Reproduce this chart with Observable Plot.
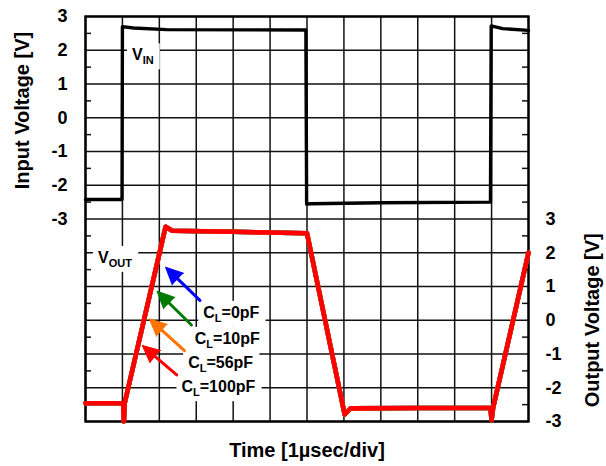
<!DOCTYPE html>
<html><head><meta charset="utf-8">
<script src="https://cdn.jsdelivr.net/npm/d3@7"></script>
<script src="https://cdn.jsdelivr.net/npm/@observablehq/plot@0.6"></script>
<style>
body{margin:0;background:#fff;}
svg{display:block;}
</style>
</head><body><div id="chart"></div>
<script>
// ---- data (time in µs = divisions, voltages in V) ----
const vinTime  = [0, 0.99, 1.0, 1.3, 2.2, 5.97, 5.99, 6.1, 8.0, 10.97, 10.99, 11.3, 12];
const vinVolt  = [-2.42, -2.42, 2.70, 2.66, 2.61, 2.60, -2.56, -2.55, -2.52, -2.50, 2.72, 2.64, 2.59];

const voutTime = [0, 1.02, 1.04, 1.06, 2.17, 2.35, 4.0, 6.0, 7.02, 7.18, 9.0, 10.97, 11.0, 11.04, 12];
const voutVolt = [-2.46, -2.46, -3.0, -2.46, 2.77, 2.65, 2.62, 2.58, -2.79, -2.61, -2.60, -2.60, -2.96, -2.60, 2.0];

const loadNames  = ["CL=0pF", "CL=10pF", "CL=56pF", "CL=100pF"];
const loadColors = ["#0000ff", "#007a00", "#ff7300", "#ff0000"];

// arrows (head / tail) in output-voltage units
const arrowHeadT = [2.17, 1.94, 1.73, 1.54];
const arrowHeadV = [1.57, 0.86, 0.04, -0.75];
const arrowTailT = [3.10, 2.87, 2.68, 2.47];
const arrowTailV = [0.59, -0.14, -0.90, -1.62];

// annotation labels
const labelMain  = ["V", "V", "C", "C", "C", "C"];
const labelSub   = ["IN", "OUT", "L", "L", "L", "L"];
const labelRest  = ["", "", "=0pF", "=10pF", "=56pF", "=100pF"];
const labelT     = [1.26, 0.34, 3.19, 2.96, 2.78, 2.60];
const labelV     = [1.70, 1.70, 0.07, -0.70, -1.42, -2.13];
const labelPanel = ["in", "out", "out", "out", "out", "out"];

const inTicks  = [-3, -2, -1, 0, 1, 2, 3];
const outTicks = [-3, -2, -1, 0, 1, 2, 3];
const timeDivs = d3.range(0, 13);

// ---- layout ----
const W = 606, H = 466, ML = 85, MR = 78, MT = 16, MB = 45;
const OUT_SHIFT = -6;                 // output panel sits 6 divisions below input panel
const pxPerT = (W - ML - MR) / 12;
const pxPerV = (H - MT - MB) / 12;
const FONT = "'Liberation Sans', Arial, Helvetica, sans-serif";

const vin = vinTime.map((t, i) => ({t, y: vinVolt[i]}));
const vout = loadNames.flatMap((name, k) => voutTime.map((t, i) => ({name, color: loadColors[k], t, y: voutVolt[i] + OUT_SHIFT})));
const arrows = loadNames.map((name, i) => {
  const dx = (arrowHeadT[i] - arrowTailT[i]) * pxPerT;
  const dv = (arrowHeadV[i] - arrowTailV[i]) * pxPerV;
  return {
    color: loadColors[i],
    hx: arrowHeadT[i], hy: arrowHeadV[i] + OUT_SHIFT,
    tx: arrowTailT[i], ty: arrowTailV[i] + OUT_SHIFT,
    rot: Math.atan2(dx, dv) * 180 / Math.PI
  };
});
const labels = labelMain.map((m, i) => ({
  main: m, sub: labelSub[i], rest: labelRest[i], full: m + labelSub[i] + labelRest[i],
  t: labelT[i], y: labelV[i] + (labelPanel[i] === "out" ? OUT_SHIFT : 0)
}));
const hGrid = d3.range(-9, 4);
const minor = d3.range(-8.5, 3, 1);

const chart = Plot.plot({
  width: W, height: H,
  marginLeft: ML, marginRight: MR, marginTop: MT, marginBottom: MB,
  x: {domain: [0, 12], axis: null},
  y: {domain: [-9, 3]},
  color: {type: "identity"},
  style: {fontFamily: FONT, fontWeight: "bold", background: "white", color: "black"},
  marks: [
    Plot.ruleX(timeDivs, {stroke: "#111", strokeWidth: 1.5}),
    Plot.ruleY(hGrid, {stroke: "#111", strokeWidth: 1.5}),
    Plot.ruleY(minor, {x1: 0, x2: 6 / pxPerT, stroke: "#111", strokeWidth: 1.5}),
    Plot.ruleY(minor, {x1: 12 - 6 / pxPerT, x2: 12, stroke: "#111", strokeWidth: 1.5}),
    Plot.frame({stroke: "black", strokeWidth: 2.4}),
    Plot.axisY(inTicks, {anchor: "left", tickSize: 0, tickPadding: 18, fontSize: 18, fontWeight: "bold", tickFormat: d => String(d), label: null}),
    Plot.axisY(outTicks.map(v => v + OUT_SHIFT), {anchor: "right", tickSize: 0, tickPadding: 17, fontSize: 18, fontWeight: "bold", textAnchor: "start", tickFormat: d => String(d - OUT_SHIFT), label: null}),
    Plot.text(labels, {x: "t", y: "y", text: "full", textAnchor: "start", lineAnchor: "bottom", fontSize: 16, fontWeight: "bold", fill: "black"}),
    Plot.line(vin, {x: "t", y: "y", stroke: "black", strokeWidth: 3.4, strokeLinejoin: "round"}),
    Plot.line(vout, {x: "t", y: "y", z: "name", stroke: "color", strokeWidth: 4.6, strokeLinejoin: "round"}),
    Plot.arrow(arrows, {x1: "tx", y1: "ty", x2: "hx", y2: "hy", stroke: "color", strokeWidth: 3, headLength: 0, insetEnd: 10}),
    Plot.vector(arrows, {x: "hx", y: "hy", rotate: "rot", length: 17, r: 8, shape: "spike", anchor: "end", fill: "color", stroke: "color", strokeWidth: 1}),
    Plot.text(["Input Voltage [V]"], {x: 0, y: 3 - (110 - MT) / pxPerV, dx: -63, rotate: -90, fontSize: 20, fontWeight: "bold", fill: "black"}),
    Plot.text(["Output Voltage [V]"], {x: 12, y: -6, dx: 64, rotate: -90, fontSize: 20, fontWeight: "bold", fill: "black"}),
    Plot.text(["Time [1µsec/div]"], {x: 6, y: -9, dy: 29, fontSize: 20, fontWeight: "bold", fill: "black"})
  ]
});
document.getElementById("chart").append(chart);

// subscripts + white label boxes
const ns = "http://www.w3.org/2000/svg";
const allTexts = Array.from(chart.querySelectorAll("text"));
labels.forEach(d => {
  const el = allTexts.find(e => e.textContent === d.full && !e.dataset.done);
  if (!el) return;
  el.dataset.done = "1";
  el.textContent = "";
  const a = document.createElementNS(ns, "tspan"); a.textContent = d.main; el.append(a);
  const b = document.createElementNS(ns, "tspan"); b.textContent = d.sub; b.setAttribute("font-size", "11"); b.setAttribute("dy", "4"); el.append(b);
  if (d.rest) { const c = document.createElementNS(ns, "tspan"); c.textContent = d.rest; c.setAttribute("dy", "-4"); el.append(c); }
  const bb = el.getBBox();
  const r = document.createElementNS(ns, "rect");
  r.setAttribute("x", bb.x - 5); r.setAttribute("y", bb.y - 3);
  r.setAttribute("width", bb.width + 11); r.setAttribute("height", bb.height + 6);
  r.setAttribute("fill", "white");
  if (el.getAttribute("transform")) r.setAttribute("transform", el.getAttribute("transform"));
  el.parentNode.insertBefore(r, el);
});
</script>
</body></html>
